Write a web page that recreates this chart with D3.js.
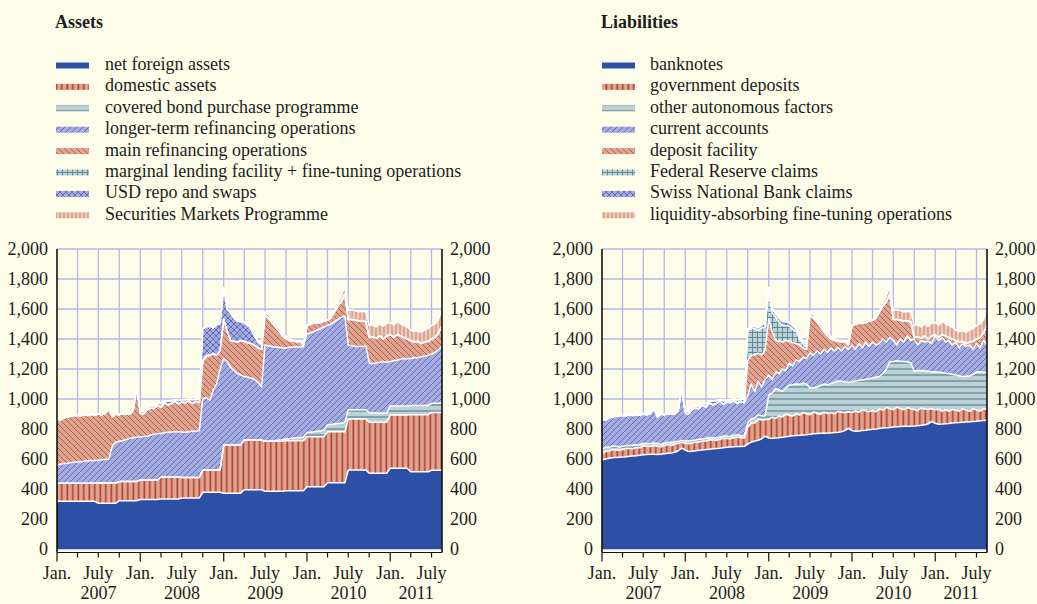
<!DOCTYPE html>
<html>
<head>
<meta charset="utf-8">
<script src="https://cdn.jsdelivr.net/npm/d3@7/dist/d3.min.js"></script>
<style>
  html,body{margin:0;padding:0;background:#fdfce9;}
  svg{display:block;}
  text{font-family:"Liberation Serif","Times New Roman",serif;fill:#1c1c1c;}
</style>
</head>
<body>
<svg id="chart" width="1037" height="604"></svg>
<script>
// ================= DATA =================
// semi-monthly observation dates (1st and 16th of each month), Jan 2007 - mid Aug 2011
const dates = d3.range(112).map(i => new Date(2007, Math.floor(i / 2), i % 2 ? 16 : 1));

const yTicks = [0, 200, 400, 600, 800, 1000, 1200, 1400, 1600, 1800, 2000];
const monthLabels = ["Jan.", "July"];
const yearLabels = ["2007", "2008", "2009", "2010", "2011"];

const assetNames = ["net foreign assets", "domestic assets", "covered bond purchase programme",
  "longer-term refinancing operations", "main refinancing operations",
  "marginal lending facility + fine-tuning operations", "USD repo and swaps", "Securities Markets Programme"];
const liabilityNames = ["banknotes", "government deposits", "other autonomous factors", "current accounts",
  "deposit facility", "Federal Reserve claims", "Swiss National Bank claims", "liquidity-absorbing fine-tuning operations"];

// ----- Assets (EUR billions) -----
const netForeignAssets = [
  318,318,318,318,318,318,318,318,318,318,318,318,
  305,305,305,305,305,305,322,322,322,322,322,322,
  330,330,330,330,330,330,333,333,333,333,333,333,
  340,340,340,340,340,340,378,378,378,378,378,378,
  372,372,372,372,372,372,395,395,395,395,395,395,
  385,385,385,385,385,385,388,388,388,388,388,388,
  415,415,415,415,415,415,442,442,442,442,442,442,
  527,527,527,527,527,527,505,505,505,505,505,505,
  538,538,538,538,538,538,515,515,515,515,515,515,
  525,525,525,525];
const domesticAssets = [
  120,120,120,120,120,120,120,120,120,120,120,120,
  135,135,135,135,135,135,128,128,128,128,128,128,
  130,130,130,130,130,130,147,147,147,147,147,147,
  136,136,136,136,136,136,149,149,149,149,149,149,
  321,321,321,321,321,321,332,332,332,332,332,332,
  333,333,333,333,333,333,334,334,334,334,334,334,
  334,334,334,334,334,334,340,340,340,340,340,340,
  340,340,340,340,340,340,340,340,340,340,340,340,
  355,355,355,355,355,355,380,380,380,380,380,380,
  385,385,385,385];
const coveredBond = [
  0,0,0,0,0,0,0,0,0,0,0,0,
  0,0,0,0,0,0,0,0,0,0,0,0,
  0,0,0,0,0,0,0,0,0,0,0,0,
  0,0,0,0,0,0,0,0,0,0,0,0,
  0,0,0,0,0,0,0,0,0,0,0,0,
  1,2,4,6,8,10,12,14,17,20,22,25,
  27,30,33,36,39,42,45,48,51,54,57,60,
  61,61,61,61,61,61,61,61,61,61,61,61,
  61,61,61,61,61,61,61,61,61,61,61,61,
  61,61,61,61];
const ltro = [
  122,127,132,134,137,140,142,144,147,150,152,152,
  152,155,158,160,250,272,268,272,280,288,292,295,
  288,290,292,300,305,308,290,295,298,300,302,302,
  304,302,306,309,310,312,473,483,463,533,573,673,
  577,557,517,497,477,467,423,418,413,403,383,353,
  641,635,628,621,619,612,606,609,606,608,601,603,
  659,661,668,675,682,689,663,670,682,694,706,713,
  432,427,422,422,422,427,334,329,334,339,344,339,
  296,301,306,311,316,314,314,319,319,324,329,334,
  329,339,359,379];
const mro = [
  305,295,305,308,310,312,312,306,310,302,308,303,
  308,300,307,335,190,188,177,183,168,162,178,325,
  157,150,178,180,170,192,175,200,182,190,203,183,
  200,197,208,185,199,187,250,270,300,240,190,120,
  260,200,180,195,210,230,235,230,230,230,230,250,
  200,185,160,135,105,80,60,45,40,30,40,10,
  55,60,55,45,40,40,35,40,65,90,105,145,
  170,175,175,170,170,160,170,180,165,175,150,175,
  180,155,170,155,140,132,120,105,110,90,95,95,
  100,100,110,140];
const marginalLending = [
  0,0,0,0,0,0,0,0,0,0,0,0,
  0,0,0,0,0,0,0,0,0,0,0,0,
  0,0,0,0,0,0,0,0,0,0,0,0,
  0,0,0,0,0,0,8,10,6,5,4,3,
  3,0,0,0,0,0,0,0,0,0,0,0,
  0,0,0,0,0,0,0,0,0,0,0,0,
  0,0,0,0,0,0,0,0,0,0,0,0,
  0,0,0,0,0,0,0,0,0,0,0,0,
  0,0,0,0,0,0,0,0,0,0,0,0,
  0,0,0,0];
const usdRepo = [
  0,0,0,0,0,0,0,0,0,0,0,0,
  0,0,0,0,0,0,0,0,0,0,10,10,
  15,15,15,15,20,10,25,10,25,20,10,25,
  15,20,10,25,15,25,210,190,190,170,200,180,
  210,150,180,155,140,125,125,115,100,60,40,30,
  20,20,20,20,20,20,15,10,7,8,5,2,
  0,0,0,0,0,0,0,0,0,0,0,0,
  0,0,0,0,0,0,0,0,0,0,0,0,
  0,0,0,0,0,0,0,0,0,0,0,0,
  0,0,0,0];
const smp = [
  0,0,0,0,0,0,0,0,0,0,0,0,
  0,0,0,0,0,0,0,0,0,0,0,0,
  0,0,0,0,0,0,0,0,0,0,0,0,
  0,0,0,0,0,0,0,0,0,0,0,0,
  0,0,0,0,0,0,0,0,0,0,0,0,
  0,0,0,0,0,0,0,0,0,0,0,0,
  0,0,0,0,0,0,0,0,0,20,40,50,
  60,65,65,60,65,65,80,80,75,80,85,85,
  80,80,90,80,80,80,70,70,70,75,80,85,
  90,90,90,110];

// ----- Liabilities (EUR billions) -----
const banknotes = [
  593,600,605,608,610,612,613,615,618,620,622,625,
  628,630,632,632,630,632,635,638,640,645,655,672,
  660,650,652,655,658,660,663,665,668,670,672,675,
  678,680,682,683,683,685,700,712,720,725,735,752,
  740,738,740,742,745,748,752,755,757,758,760,762,
  765,768,770,772,772,773,774,776,778,782,790,805,
  790,785,787,790,792,795,798,800,803,806,808,810,
  813,815,817,818,818,819,820,822,825,828,835,850,
  838,832,833,835,837,840,842,843,845,846,848,850,
  852,855,856,858];
const govDeposits = [
  45,50,48,55,52,47,50,55,52,48,55,50,
  60,55,52,58,55,50,53,58,50,55,48,40,
  45,52,55,58,55,60,57,62,58,55,60,63,
  58,55,60,62,58,55,110,130,120,140,125,110,
  125,140,130,145,135,150,140,130,145,135,150,140,
  130,145,135,125,140,130,135,125,140,130,120,110,
  120,135,125,140,130,120,125,115,130,120,135,125,
  115,130,120,110,125,115,110,100,115,105,95,85,
  90,100,85,95,80,90,85,75,90,80,70,85,
  75,65,80,70];
const otherAutonomous = [
  30,28,25,22,25,20,22,18,20,22,18,20,
  15,18,20,16,18,15,17,15,18,16,14,12,
  15,18,16,14,17,15,18,16,15,17,14,16,
  18,15,17,16,14,15,30,25,35,30,28,25,
  162,162,200,173,170,172,201,210,198,205,195,198,
  176,162,175,193,188,192,195,209,202,206,205,195,
  205,200,213,198,208,220,217,230,217,244,257,314,
  322,310,315,322,305,306,255,266,250,255,255,245,
  254,246,257,242,253,235,233,237,215,226,237,230,
  253,262,242,252];
const currentAccounts = [
  197,182,197,195,198,211,207,200,205,200,203,198,
  197,192,201,229,177,203,190,194,190,184,203,346,
  185,180,207,213,205,225,207,232,219,228,239,211,
  226,225,231,209,230,220,180,233,175,225,192,243,
  133,90,110,110,150,120,147,125,160,152,175,170,
  239,215,240,210,230,215,236,210,225,202,235,220,
  245,210,245,212,250,215,240,215,220,230,180,161,
  140,105,148,130,172,150,215,172,200,192,200,190,
  238,212,235,208,220,195,220,185,220,198,205,165,
  190,158,212,180];
const depositFacility = [
  0,0,0,0,0,0,0,0,0,0,0,0,
  0,0,0,0,0,0,0,0,0,0,0,0,
  0,0,0,0,0,0,0,0,0,0,0,0,
  0,0,0,0,0,0,238,190,246,185,214,193,
  373,320,210,215,180,200,145,155,110,110,60,60,
  250,250,190,180,120,110,60,70,40,60,35,30,
  130,170,135,165,130,170,145,180,210,220,270,290,
  140,170,125,140,100,125,10,55,15,40,15,50,
  10,20,20,40,20,40,10,40,15,20,20,55,
  30,70,50,130];
const fedClaims = [
  0,0,0,0,0,0,0,0,0,0,0,0,
  0,0,0,0,0,0,0,0,0,0,10,10,
  15,15,15,15,20,10,25,10,25,20,10,25,
  15,20,10,25,15,25,205,180,175,150,180,155,
  180,125,155,125,110,100,100,90,80,40,25,15,
  0,0,0,0,0,0,0,0,0,0,0,0,
  0,0,0,0,0,0,0,0,0,0,0,0,
  0,0,0,0,0,0,0,0,0,0,0,0,
  0,0,0,0,0,0,0,0,0,0,0,0,
  0,0,0,0];
const snbClaims = [
  0,0,0,0,0,0,0,0,0,0,0,0,
  0,0,0,0,0,0,0,0,0,0,0,0,
  0,0,0,0,0,0,0,0,0,0,0,0,
  0,0,0,0,0,0,5,10,15,20,20,25,
  30,25,25,30,30,25,25,25,20,20,15,15,
  20,20,20,20,20,20,15,10,7,8,5,2,
  0,0,0,0,0,0,0,0,0,0,0,0,
  0,0,0,0,0,0,0,0,0,0,0,0,
  0,0,0,0,0,0,0,0,0,0,0,0,
  0,0,0,0];
const fineTuningAbsorbing = [
  0,0,0,0,0,0,0,0,0,0,0,0,
  0,0,0,0,0,0,0,0,0,0,0,0,
  0,0,0,0,0,0,0,0,0,0,0,0,
  0,0,0,0,0,0,0,0,0,0,0,0,
  0,0,0,0,0,0,0,0,0,0,0,0,
  0,0,0,0,0,0,0,0,0,0,0,0,
  0,0,0,0,0,0,0,0,0,20,40,50,
  60,65,65,60,65,65,80,80,75,80,85,85,
  80,80,90,80,80,80,70,70,70,75,80,85,
  90,90,90,110];

// ================= DRAWING =================
const svg = d3.select("#chart");
const defs = svg.append("defs");

const C = {
  blue: "#2d4fa6", lav: "#a6abde", lavLine: "#4a59b5",
  salmon: "#dca591", red: "#b63b2d", tealBg: "#bdd0d6", teal: "#5a8b99",
  light: "#f3d9cb", grid: "#b3b7e6"
};

function pattern(id, w, h, bg, draw) {
  const p = defs.append("pattern").attr("id", id)
    .attr("patternUnits", "userSpaceOnUse").attr("width", w).attr("height", h);
  p.append("rect").attr("width", w).attr("height", h).attr("fill", bg);
  draw(p);
}
pattern("pVert", 5.5, 10, C.salmon, p => p.append("line").attr("x1", 1.3).attr("x2", 1.3).attr("y1", 0).attr("y2", 10).attr("stroke", C.red).attr("stroke-width", 1.6));
pattern("pHoriz", 10, 6, C.tealBg, p => p.append("line").attr("x1", 0).attr("x2", 10).attr("y1", 3).attr("y2", 3).attr("stroke", C.teal).attr("stroke-width", 1.3));
pattern("pFwd", 6, 6, C.lav, p => p.append("path").attr("d", "M0,6L6,0M-1,1L1,-1M5,7L7,5").attr("stroke", C.lavLine).attr("stroke-width", 0.75));
pattern("pBack", 6, 6, C.salmon, p => p.append("path").attr("d", "M0,0L6,6M-1,5L1,7M5,-1L7,1").attr("stroke", C.red).attr("stroke-width", 0.75));
pattern("pGrid", 5, 5, C.tealBg, p => p.append("path").attr("d", "M2.5,0V5M0,2.5H5").attr("stroke", C.teal).attr("stroke-width", 1));
pattern("pCross", 6, 6, C.lav, p => p.append("path").attr("d", "M0,6L6,0M-1,1L1,-1M5,7L7,5M0,0L6,6M-1,5L1,7M5,-1L7,1").attr("stroke", C.lavLine).attr("stroke-width", 0.8));
pattern("pVertLight", 4, 10, C.salmon, p => p.append("line").attr("x1", 2).attr("x2", 2).attr("y1", 0).attr("y2", 10).attr("stroke", C.light).attr("stroke-width", 1.4));

const fills = [C.blue, "url(#pVert)", "url(#pHoriz)", "url(#pFwd)", "url(#pBack)", "url(#pGrid)", "url(#pCross)", "url(#pVertLight)"];

const yTop = 249, yBot = 549;
const y = d3.scaleLinear().domain([0, 2000]).range([yBot, yTop]);
const quarters = d3.timeMonth.every(3).range(new Date(2007, 0, 1), new Date(2011, 7, 1));

function drawPanel(o) {
  const x = d3.scaleTime().domain([dates[0], dates[dates.length - 1]]).range([o.x0, o.x1]);
  const g = svg.append("g");

  // title
  g.append("text").attr("x", o.titleX).attr("y", 28).attr("font-size", 18).attr("font-weight", "bold").text(o.title);

  // legend
  o.names.forEach((n, k) => {
    const by = 70 + k * 21.4;
    g.append("rect").attr("x", o.swatchX).attr("y", by - 7.5).attr("width", 33).attr("height", 6).attr("fill", fills[k]);
    g.append("text").attr("x", o.textX).attr("y", by).attr("font-size", 18).text(n);
  });

  // grid
  const grid = g.append("g").attr("stroke", C.grid).attr("stroke-width", 1.3);
  grid.selectAll("line.h").data(yTicks).join("line").attr("class", "h")
    .attr("x1", o.x0).attr("x2", o.x1).attr("y1", d => y(d)).attr("y2", d => y(d));
  grid.selectAll("line.v").data(quarters.slice(1)).join("line").attr("class", "v")
    .attr("x1", d => x(d)).attr("x2", d => x(d)).attr("y1", yTop).attr("y2", yBot);

  // stacked areas
  const rows = dates.map((d, i) => {
    const r = { date: d };
    o.series.forEach((s, k) => r["s" + k] = s[i]);
    return r;
  });
  const keys = o.series.map((s, k) => "s" + k);
  const stacked = d3.stack().keys(keys)(rows);
  const area = d3.area().x(d => x(d.data.date)).y0(d => y(d[0])).y1(d => y(d[1]));
  const line = d3.line().x(d => x(d.data.date)).y(d => y(d[1]));
  g.selectAll("path.area").data(stacked).join("path").attr("class", "area")
    .attr("d", area).attr("fill", (d, k) => fills[k]);
  g.selectAll("path.edge").data(stacked).join("path").attr("class", "edge")
    .attr("d", line).attr("fill", "none").attr("stroke", "#ffffff").attr("stroke-width", 1.5)
    .attr("stroke-linejoin", "round");

  // axes frame
  const axY = yBot + 3.5;
  g.append("line").attr("x1", o.x0).attr("x2", o.x0).attr("y1", yTop).attr("y2", axY).attr("stroke", "#111").attr("stroke-width", 1.6);
  g.append("line").attr("x1", o.x1).attr("x2", o.x1).attr("y1", yTop).attr("y2", axY).attr("stroke", "#111").attr("stroke-width", 1.6);
  g.append("line").attr("x1", o.x0).attr("x2", o.x1).attr("y1", axY).attr("y2", axY).attr("stroke", "#111").attr("stroke-width", 1.2);
  g.append("g").selectAll("line").data(quarters).join("line")
    .attr("x1", d => x(d)).attr("x2", d => x(d)).attr("y1", axY)
    .attr("y2", d => axY + (d.getMonth() === 0 ? 9 : 5))
    .attr("stroke", "#111").attr("stroke-width", 1.2);

  // y labels
  const fmt = d3.format(",");
  const la = g.append("g").attr("transform", `translate(${o.x0},0)`)
    .call(d3.axisLeft(y).tickValues(yTicks).tickSize(0).tickPadding(9).tickFormat(fmt));
  const ra = g.append("g").attr("transform", `translate(${o.x1},0)`)
    .call(d3.axisRight(y).tickValues(yTicks).tickSize(0).tickPadding(8).tickFormat(fmt));
  [la, ra].forEach(a => {
    a.select(".domain").remove();
    a.attr("font-family", null).attr("font-size", null);
    a.selectAll("text").attr("font-size", 18).attr("fill", "#1c1c1c");
  });

  // x labels
  g.append("g").selectAll("text").data(quarters.filter(d => d.getMonth() % 6 === 0)).join("text")
    .attr("x", d => x(d)).attr("y", 579).attr("text-anchor", "middle").attr("font-size", 18)
    .text(d => d.getMonth() === 0 ? monthLabels[0] : monthLabels[1]);
  const end = dates[dates.length - 1];
  g.append("g").selectAll("text").data(yearLabels).join("text")
    .attr("x", yr => {
      const a = new Date(+yr, 0, 1), b = new Date(+yr + 1, 0, 1);
      return (x(a) + x(b < end ? b : end)) / 2;
    })
    .attr("y", 599).attr("text-anchor", "middle").attr("font-size", 18).text(yr => yr);
}

drawPanel({
  title: "Assets", titleX: 55, swatchX: 56, textX: 105, x0: 57, x1: 442,
  names: assetNames,
  series: [netForeignAssets, domesticAssets, coveredBond, ltro, mro, marginalLending, usdRepo, smp]
});
drawPanel({
  title: "Liabilities", titleX: 601, swatchX: 602, textX: 650, x0: 602, x1: 987,
  names: liabilityNames,
  series: [banknotes, govDeposits, otherAutonomous, currentAccounts, depositFacility, fedClaims, snbClaims, fineTuningAbsorbing]
});
</script>
</body>
</html>
